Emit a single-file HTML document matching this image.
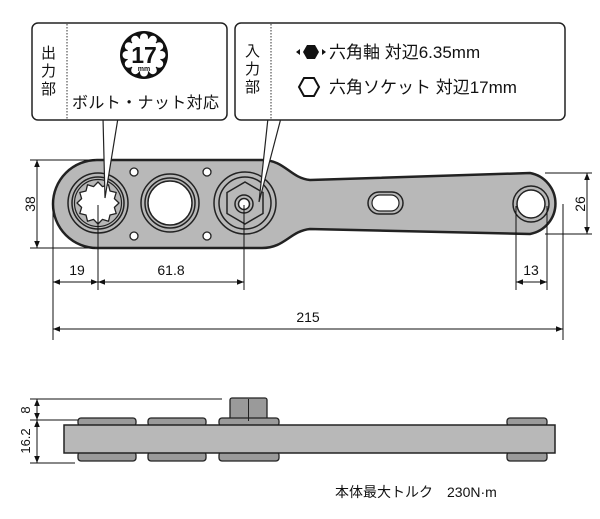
<!DOCTYPE html>
<html><head><meta charset="utf-8"><style>
html,body{margin:0;padding:0;background:#fff}
svg{display:block}
text{font-family:"Liberation Sans","Noto Sans CJK JP",sans-serif;fill:#111}
</style></head><body>
<svg width="600" height="519" viewBox="0 0 600 519" xmlns="http://www.w3.org/2000/svg">
<defs>
<marker id="a" viewBox="0 0 10 10" refX="10" refY="5" markerWidth="7" markerHeight="7" orient="auto-start-reverse"><path d="M0,1 L10,5 L0,9 z" fill="#111"/></marker>
</defs>
<!-- wrench top view -->
<path d="M97,160 L262,160 C285,160 290,178 310,180 L530,173 A31,31 0 0 1 530,234 L310,229 C290,231 285,248 262,248 L97,248 A44,44 0 0 1 97,160 Z" fill="#b8b8b8" stroke="#222" stroke-width="2.5"/>
<g fill="#fff" stroke="#222" stroke-width="1.3">
<circle cx="134" cy="172" r="4"/><circle cx="134" cy="236" r="4"/>
<circle cx="207" cy="172" r="4"/><circle cx="207" cy="236" r="4"/>
</g>
<!-- left 12pt hole -->
<circle cx="98" cy="203" r="30" fill="#b8b8b8" stroke="#222" stroke-width="1.5"/>
<circle cx="98" cy="203" r="26" fill="#b8b8b8" stroke="#222" stroke-width="1.5"/>
<circle cx="98" cy="203" r="23.5" fill="#b8b8b8" stroke="#222" stroke-width="1.2"/>
<polygon points="119,203 114.4,207.4 116.2,213.5 110,215 108.5,221.2 102.4,219.4 98,224 93.6,219.4 87.5,221.2 86,215 79.8,213.5 81.6,207.4 77,203 81.6,198.6 79.8,192.5 86,191 87.5,184.8 93.6,186.6 98,182 102.4,186.6 108.5,184.8 110,191 116.2,192.5 114.4,198.6" fill="#fff" stroke="#222" stroke-width="1.3" stroke-linejoin="round"/>
<!-- middle hole -->
<circle cx="170" cy="203" r="29" fill="#b8b8b8" stroke="#222" stroke-width="1.5"/>
<circle cx="170" cy="203" r="25" fill="#b8b8b8" stroke="#222" stroke-width="1.5"/>
<circle cx="170" cy="203" r="22" fill="#fff" stroke="#222" stroke-width="1.5"/>
<!-- right hex -->
<circle cx="245" cy="203" r="31" fill="#b8b8b8" stroke="#222" stroke-width="1.5"/>
<circle cx="245" cy="203" r="26" fill="#b8b8b8" stroke="#222" stroke-width="1.5"/>
<polygon points="245,182 263,192.5 263,213.5 245,224 227,213.5 227,192.5" fill="#b8b8b8" stroke="#222" stroke-width="1.5"/>
<circle cx="244" cy="204" r="9" fill="#b8b8b8" stroke="#222" stroke-width="1.5"/>
<circle cx="244" cy="204" r="5.5" fill="#fff" stroke="#222" stroke-width="1.5"/>
<!-- slot -->
<rect x="368" y="192" width="35" height="22" rx="11" fill="#b8b8b8" stroke="#222" stroke-width="1.5"/>
<rect x="372" y="195" width="27" height="16" rx="8" fill="#fff" stroke="#222" stroke-width="1.2"/>
<!-- right hole -->
<circle cx="531" cy="204" r="18" fill="#b8b8b8" stroke="#222" stroke-width="1.5"/>
<circle cx="531" cy="204" r="14" fill="#fff" stroke="#222" stroke-width="1.5"/>
<!-- dimensions -->
<g stroke="#111" stroke-width="1" fill="none">
<line x1="30" y1="160" x2="95" y2="160"/><line x1="30" y1="248" x2="95" y2="248"/>
<line x1="37" y1="160" x2="37" y2="248" marker-start="url(#a)" marker-end="url(#a)"/>
<line x1="53" y1="200" x2="53" y2="340"/><line x1="98" y1="205" x2="98" y2="290"/><line x1="244" y1="205" x2="244" y2="290"/>
<line x1="53" y1="282" x2="98" y2="282" marker-start="url(#a)" marker-end="url(#a)"/>
<line x1="98" y1="282" x2="244" y2="282" marker-start="url(#a)" marker-end="url(#a)"/>
<line x1="516" y1="206" x2="516" y2="290"/><line x1="547" y1="206" x2="547" y2="290"/><line x1="563" y1="204" x2="563" y2="340"/>
<line x1="516" y1="282" x2="547" y2="282" marker-start="url(#a)" marker-end="url(#a)"/>
<line x1="53" y1="329" x2="563" y2="329" marker-start="url(#a)" marker-end="url(#a)"/>
<line x1="545" y1="173" x2="592" y2="173"/><line x1="545" y1="234" x2="592" y2="234"/>
<line x1="587" y1="173" x2="587" y2="234" marker-start="url(#a)" marker-end="url(#a)"/>
</g>
<text x="30" y="204" font-size="14" text-anchor="middle" transform="rotate(-90 30 204)" dy="5">38</text>
<text x="580" y="204" font-size="14" text-anchor="middle" transform="rotate(-90 580 204)" dy="5">26</text>
<text x="77" y="275" font-size="14" text-anchor="middle">19</text>
<text x="171" y="275" font-size="14" text-anchor="middle">61.8</text>
<text x="531" y="275" font-size="14" text-anchor="middle">13</text>
<text x="308" y="322" font-size="14" text-anchor="middle">215</text>
<!-- callout pointers -->
<path d="M103,118 L105,198 L118,118" fill="#fff" stroke="#222" stroke-width="1.2"/>
<path d="M268,118 L259,202 L281,118" fill="#fff" stroke="#222" stroke-width="1.2"/>
<!-- callout box 1 -->
<rect x="32" y="23" width="195" height="97" rx="6" fill="#fff" stroke="#222" stroke-width="1.5"/>
<line x1="67" y1="24" x2="67" y2="119" stroke="#333" stroke-dasharray="1.5,1.5"/>
<text x="41" y="58" font-size="15">出</text>
<text x="41" y="76" font-size="15">力</text>
<text x="41" y="94" font-size="15">部</text>
<circle cx="144" cy="55" r="24" fill="#111"/>
<g fill="#fff">
<circle cx="144" cy="55" r="17"/>
<circle cx="144" cy="37.5" r="4"/><circle cx="144" cy="72.5" r="4"/>
<circle cx="126.5" cy="55" r="4"/><circle cx="161.5" cy="55" r="4"/>
<circle cx="152.8" cy="39.8" r="4"/><circle cx="135.2" cy="39.8" r="4"/>
<circle cx="152.8" cy="70.2" r="4"/><circle cx="135.2" cy="70.2" r="4"/>
<circle cx="159.2" cy="46.2" r="4"/><circle cx="128.8" cy="46.2" r="4"/>
<circle cx="159.2" cy="63.8" r="4"/><circle cx="128.8" cy="63.8" r="4"/>
</g>
<text x="144" y="63" font-size="23" font-weight="bold" text-anchor="middle">17</text>
<text x="144" y="71" font-size="7" font-weight="bold" text-anchor="middle">mm</text>
<text x="72" y="108" font-size="16" textLength="147">ボルト・ナット対応</text>
<!-- callout box 2 -->
<rect x="235" y="23" width="330" height="97" rx="6" fill="#fff" stroke="#222" stroke-width="1.5"/>
<line x1="271" y1="24" x2="271" y2="119" stroke="#333" stroke-dasharray="1.5,1.5"/>
<text x="245" y="56" font-size="15">入</text>
<text x="245" y="74" font-size="15">力</text>
<text x="245" y="92" font-size="15">部</text>
<polygon points="303,52 307,45 315,45 319,52 315,59 307,59" fill="#111"/>
<path d="M296,52 L300,49 L300,55z M326,52 L322,49 L322,55z" fill="#111"/>
<polygon points="299,87 304,78 314,78 319,87 314,96 304,96" fill="#fff" stroke="#111" stroke-width="2"/>
<text x="329" y="58" font-size="17">六角軸 対辺6.35mm</text>
<text x="329" y="93" font-size="17">六角ソケット 対辺17mm</text>
<!-- side view -->
<g stroke="#111" stroke-width="1" fill="none">
<line x1="30" y1="399" x2="222" y2="399"/><line x1="30" y1="420" x2="78" y2="420"/><line x1="30" y1="463" x2="75" y2="463"/>
<line x1="37" y1="399" x2="37" y2="420" marker-start="url(#a)" marker-end="url(#a)"/>
<line x1="37" y1="420" x2="37" y2="463" marker-start="url(#a)" marker-end="url(#a)"/>
</g>
<text x="25" y="410" font-size="13" text-anchor="middle" transform="rotate(-90 25 410)" dy="5">8</text>
<text x="25" y="441" font-size="13" text-anchor="middle" transform="rotate(-90 25 441)" dy="5">16.2</text>
<g fill="#9a9a9a" stroke="#222" stroke-width="1.3">
<rect x="230" y="398" width="37" height="24" rx="2"/>
<rect x="78" y="418" width="58" height="8" rx="3"/><rect x="148" y="418" width="58" height="8" rx="3"/><rect x="219" y="418" width="60" height="8" rx="3"/><rect x="507" y="418" width="40" height="8" rx="3"/>
<rect x="78" y="452" width="58" height="9" rx="3"/><rect x="148" y="452" width="58" height="9" rx="3"/><rect x="219" y="452" width="60" height="9" rx="3"/><rect x="507" y="452" width="40" height="9" rx="3"/>
</g>
<line x1="248.5" y1="399" x2="248.5" y2="421" stroke="#222"/>
<rect x="64" y="425" width="491" height="28" fill="#b8b8b8" stroke="#222" stroke-width="1.5"/>
<text x="335" y="497" font-size="14">本体最大トルク　230N·m</text>
</svg>
</body></html>
